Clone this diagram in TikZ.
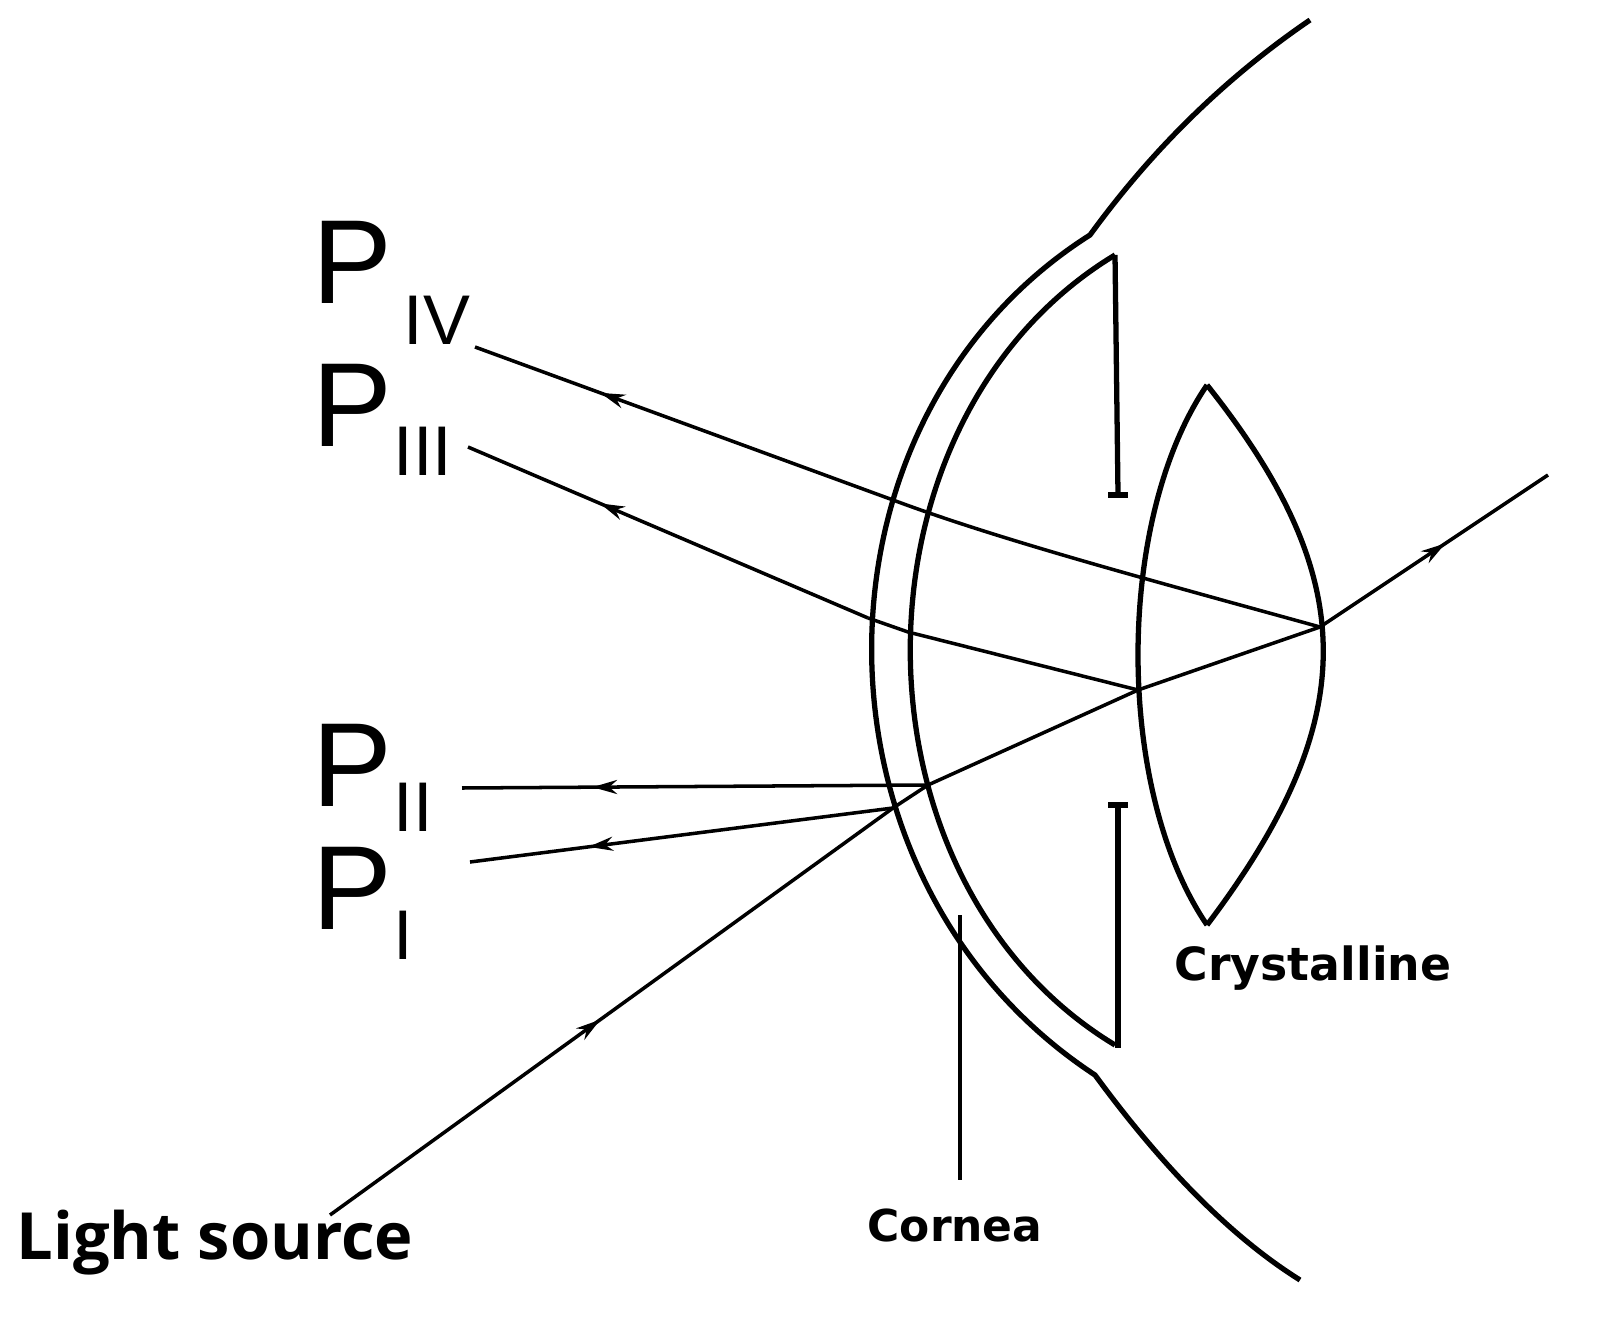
\documentclass[tikz,border=0pt]{standalone}
\usepackage{fontspec}
\setmainfont{Liberation Sans}
\newfontfamily\lbl{Open Sans}
\newfontfamily\dv{DejaVu Sans}
\usetikzlibrary{decorations.markings,arrows.meta}
\begin{document}
\begin{tikzpicture}[x=0.01cm,y=-0.01cm,
  eye/.style={line width=1.5pt,line join=round},
  ray/.style={line width=1.0pt},
  mid/.style={postaction={decorate},decoration={markings,mark=at position #1 with {\arrow{Stealth[length=7pt,width=4pt]}}}},
  plab/.style={font=\fontsize{34}{34}\selectfont,inner sep=0pt},
  sub/.style={font=\fontsize{20}{20}\selectfont,inner sep=0pt,anchor=south west}]
\useasboundingbox (0,0) rectangle (1601,1334);
% eye
\draw[eye] (1310,20) .. controls (1200,95) and (1130,180) .. (1090,235)
  .. controls (798,420) and (798,880) .. (1095,1075)
  .. controls (1150,1150) and (1220,1230) .. (1300,1280);
\draw[eye] (1115,255) .. controls (842,420) and (842,880) .. (1115,1045);
\draw[eye] (1115,255) -- (1118,495);
\draw[eye] (1108,495) -- (1128,495);
\draw[eye] (1108,805) -- (1128,805);
\draw[eye] (1118,805) -- (1118,1048);
\draw[eye] (1207,385) .. controls (1115,520) and (1115,790) .. (1207,925);
\draw[eye] (1207,385) .. controls (1362,580) and (1362,720) .. (1207,925);
% points
\coordinate (s) at (330,1215);
\coordinate (a) at (893,808);
\coordinate (b) at (928,785);
\coordinate (c) at (1138,690);
\coordinate (d) at (1320,627);
\coordinate (e) at (1548,475);
\coordinate (p1) at (470,862);
\coordinate (p2) at (462,788);
\coordinate (p3) at (468,447);
\coordinate (p4) at (475,347);
\draw[ray,mid=0.48] (s) -- (a);
\draw[ray] (a) -- (b) -- (c) -- (d);
\draw[ray,mid=0.55] (d) -- (e);
\draw[ray,mid=0.72] (a) -- (p1);
\draw[ray,mid=0.72] (b) -- (p2);
\draw[ray] (c) -- (908,632) -- (868,618);
\draw[ray,mid=0.67] (868,618) -- (p3);
\draw[ray] (d) .. controls (1150,580) and (1000,540) .. (893,500);
\draw[ray,mid=0.7] (893,500) -- (p4);
\draw[line width=1.3pt] (960,915) -- (960,1180);
% labels
\node[plab] (P4) at (352,262) {P};
\node[sub] (S4) at (403,345) {IV};
\node[plab] (P3) at (352,405) {P};
\node[sub] (S3) at (393,476) {III};
\node[plab] (P2) at (352,765) {P};
\node[sub] (S2) at (393,832) {II};
\node[plab] (P1) at (352,888) {P};
\node[sub] (S1) at (393,960) {I};
\node[font=\lbl\bfseries\fontsize{18.5}{18.5}\selectfont] (ls) at (215,1243) {Light source};
\node[font=\dv\bfseries\fontsize{12.5}{12.5}\selectfont] (co) at (955,1225) {Cornea};
\node[font=\dv\bfseries\fontsize{13}{13}\selectfont] (cr) at (1313,968) {Crystalline};
\end{tikzpicture}
\end{document}
